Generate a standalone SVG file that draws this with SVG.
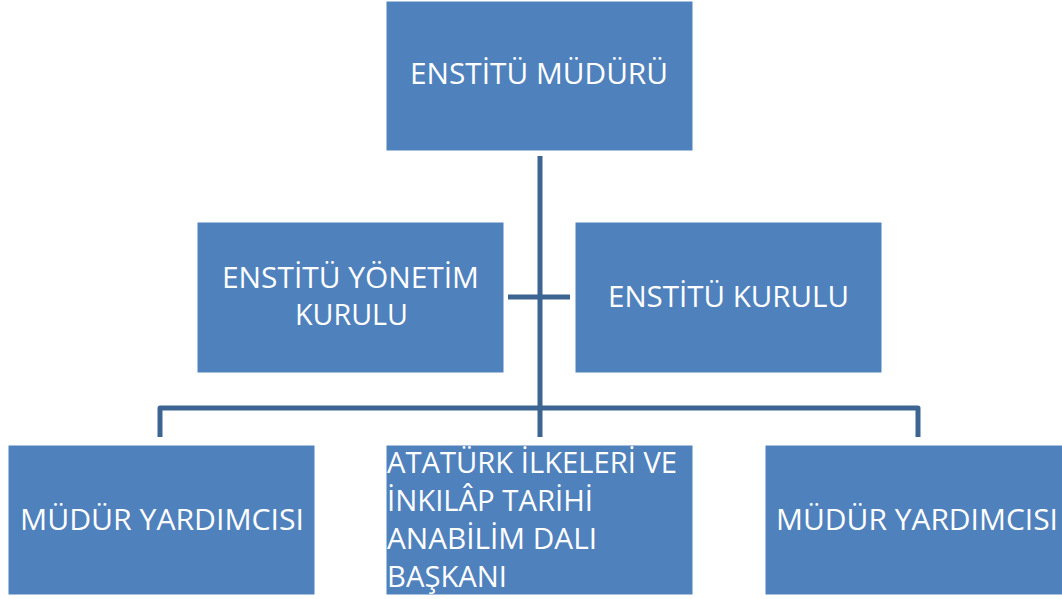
<svg xmlns="http://www.w3.org/2000/svg" width="1062" height="599" viewBox="0 0 1062 599">
<style>
.box{fill:#4F81BD;stroke:#ffffff;stroke-width:1}
.t{font-family:"Open Sans","Liberation Sans",sans-serif;font-size:29px;fill:#ffffff}
.c{fill:none;stroke:#3D6592;stroke-width:5;stroke-linejoin:round}
</style>
<rect width="1062" height="599" fill="#ffffff"/>
<g id="connectors">
<path class="c" d="M540,156 V437"/>
<path class="c" d="M508,297 H570"/>
<path class="c" d="M160,437 V408 H918 V437"/>
</g>
<g id="n-mudur">
<rect class="box" x="386" y="1" width="307" height="150"/>
<text class="t" x="410" y="84" textLength="258" lengthAdjust="spacingAndGlyphs">ENSTİTÜ MÜDÜRÜ</text>
</g>
<g id="n-yonetim">
<rect class="box" x="197" y="222" width="307" height="151"/>
<text class="t" x="222" y="288" textLength="257" lengthAdjust="spacingAndGlyphs">ENSTİTÜ YÖNETİM</text>
<text class="t" x="295" y="325" textLength="113" lengthAdjust="spacingAndGlyphs">KURULU</text>
</g>
<g id="n-kurul">
<rect class="box" x="575" y="222" width="307" height="151"/>
<text class="t" x="608" y="307" textLength="241" lengthAdjust="spacingAndGlyphs">ENSTİTÜ KURULU</text>
</g>
<g id="n-yard1">
<rect class="box" x="8" y="445" width="307" height="150"/>
<text class="t" x="20" y="530" textLength="284" lengthAdjust="spacingAndGlyphs">MÜDÜR YARDIMCISI</text>
</g>
<g id="n-ataturk">
<rect class="box" x="386" y="445" width="307" height="150"/>
<text class="t" x="387" y="473" textLength="290" lengthAdjust="spacingAndGlyphs">ATATÜRK İLKELERİ VE</text>
<text class="t" x="387" y="511" textLength="206" lengthAdjust="spacingAndGlyphs">İNKILÂP TARİHİ</text>
<text class="t" x="387" y="549" textLength="210" lengthAdjust="spacingAndGlyphs">ANABİLİM DALI</text>
<text class="t" x="387" y="587" textLength="120" lengthAdjust="spacingAndGlyphs">BAŞKANI</text>
</g>
<g id="n-yard2">
<rect class="box" x="765" y="445" width="300" height="150"/>
<text class="t" x="776" y="530" textLength="282" lengthAdjust="spacingAndGlyphs">MÜDÜR YARDIMCISI</text>
</g>
</svg>
